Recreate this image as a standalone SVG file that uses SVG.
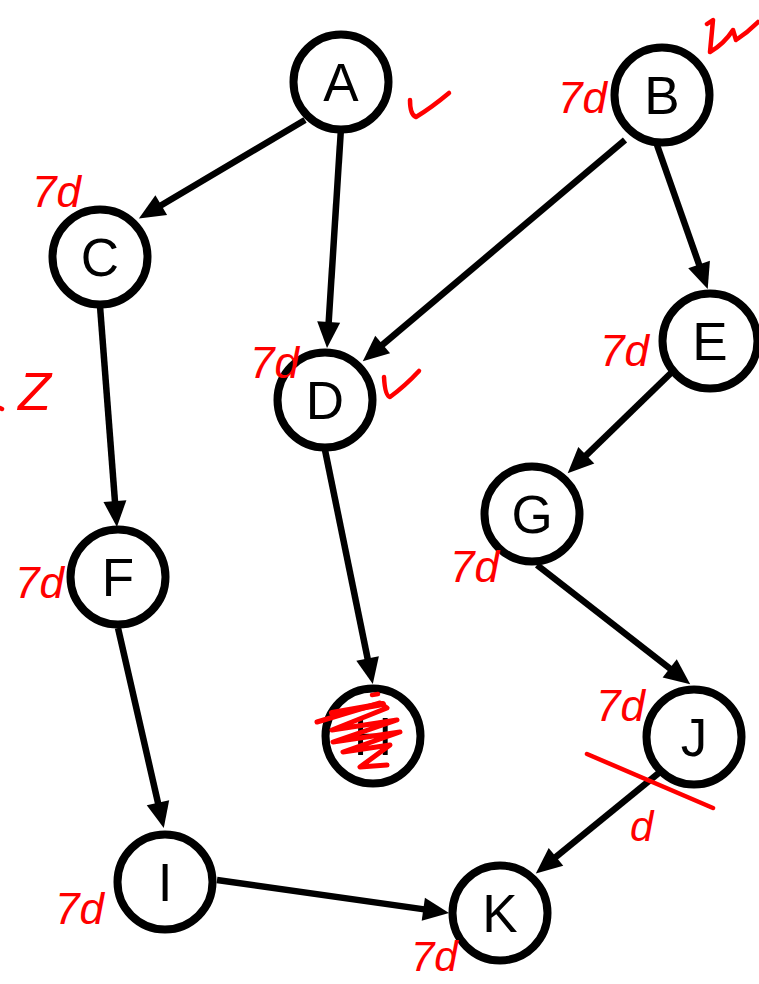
<svg xmlns="http://www.w3.org/2000/svg" width="759" height="984" viewBox="0 0 759 984">
  <style>
    .node circle { fill: #ffffff; stroke: #000000; stroke-width: 8; }
    .node text { font-family: "Liberation Sans", Arial, sans-serif; font-size: 53px; fill: #000000; text-anchor: middle; }
    .edge { stroke: #000000; stroke-width: 6.5; fill: none; marker-end: url(#arrow); }
    .ink { stroke: #ff0000; stroke-width: 4.5; fill: none; stroke-linecap: round; stroke-linejoin: round; }
    .note { font-family: "Liberation Sans", Arial, sans-serif; font-style: italic; fill: #ff0000; font-size: 44px; }
  </style>
  <defs>
    <marker id="arrow" markerUnits="userSpaceOnUse" markerWidth="30" markerHeight="26" viewBox="0 -13 30 26" refX="1" refY="0" orient="auto" overflow="visible">
      <path d="M0,-11.5 L26,0 L0,11.5 z" fill="#000000"/>
    </marker>
  </defs>
  <rect width="759" height="984" fill="#ffffff"/>

  <!-- directed edges -->
  <g id="connectors">
    <line class="edge" x1="305" y1="120" x2="160.4" y2="205.7"/>
    <line class="edge" x1="341" y1="128" x2="328.6" y2="323.1"/>
    <line class="edge" x1="625" y1="140" x2="381.9" y2="345.2"/>
    <line class="edge" x1="657" y1="145" x2="699.4" y2="265.5"/>
    <line class="edge" x1="100" y1="306" x2="115" y2="502.1"/>
    <line class="edge" x1="325" y1="450" x2="367.8" y2="659.5"/>
    <line class="edge" x1="672" y1="372" x2="585.6" y2="455.9"/>
    <line class="edge" x1="537" y1="565" x2="670.5" y2="669"/>
    <line class="edge" x1="118" y1="628" x2="158.2" y2="803.7"/>
    <line class="edge" x1="660" y1="772" x2="555.2" y2="857.6"/>
    <line class="edge" x1="217" y1="880" x2="424.3" y2="909.4"/>
  </g>

  <!-- vertices -->
  <g id="node-A" class="node"><circle cx="341" cy="82" r="47.5"/><text x="341" y="101">A</text></g>
  <g id="node-B" class="node"><circle cx="662" cy="95" r="47.5"/><text x="662" y="114">B</text></g>
  <g id="node-C" class="node"><circle cx="100" cy="257" r="47.5"/><text x="100" y="276">C</text></g>
  <g id="node-D" class="node"><circle cx="325" cy="400" r="47.5"/><text x="325" y="419">D</text></g>
  <g id="node-E" class="node"><circle cx="710" cy="341" r="47.5"/><text x="710" y="360">E</text></g>
  <g id="node-F" class="node"><circle cx="118" cy="577" r="47.5"/><text x="118" y="596">F</text></g>
  <g id="node-G" class="node"><circle cx="532" cy="514" r="47.5"/><text x="532" y="533">G</text></g>
  <g id="node-H" class="node"><circle cx="373" cy="736" r="47.5"/><text x="373" y="755">H</text></g>
  <g id="node-I" class="node"><circle cx="165" cy="882" r="47.5"/><text x="165" y="901">I</text></g>
  <g id="node-J" class="node"><circle cx="694" cy="737" r="47.5"/><text x="694" y="756">J</text></g>
  <g id="node-K" class="node"><circle cx="500" cy="913" r="47.5"/><text x="500" y="932">K</text></g>

  <!-- red hand annotations -->
  <g id="annotations">
    <text class="note" x="558" y="113">7d</text>
    <text class="note" x="32" y="207">7d</text>
    <text class="note" x="250" y="378">7d</text>
    <text class="note" x="600" y="366">7d</text>
    <text class="note" x="450" y="582">7d</text>
    <text class="note" x="15" y="598">7d</text>
    <text class="note" x="55" y="924">7d</text>
    <text class="note" x="411" y="971" style="font-size:42px">7d</text>
    <text class="note" x="596" y="721">7d</text>
    <text class="note" x="630" y="841" style="font-size:42px">d</text>
    <text class="note" x="18" y="410" style="font-size:54px">Z</text>
    <path class="ink" d="M0,408 L2,409"/>
    <!-- check marks -->
    <path class="ink" d="M410,100 Q410,115 416,117 Q431,108 449,93"/>
    <path class="ink" d="M384,377 Q385,396 390,397 Q405,386 419,371"/>
    <path class="ink" d="M707,24 L713,20 L710,52 Q724,44 733,30 L736,40 Q748,32 758,22"/>
    <!-- strike through J -> K -->
    <path class="ink" d="M587,754 L713,808"/>
    <!-- scribble over H -->
    <path class="ink" style="stroke-width:5" d="M317,722 L380,703 L387,708 L332,730 L397,720 L333,742 L400,732 L343,752 L390,745 L360,767 L387,765"/>
    <path class="ink" style="stroke-width:6" d="M332,713 L383,704"/>
    <path class="ink" d="M372,695 L378,694"/>
  </g>
</svg>
